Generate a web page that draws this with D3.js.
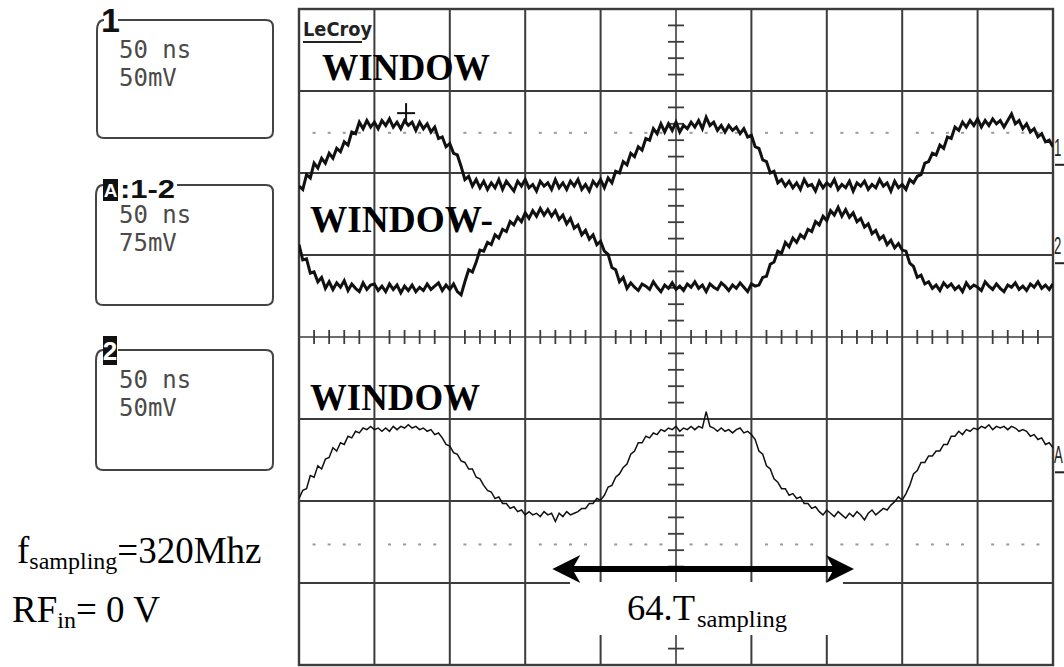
<!DOCTYPE html>
<html>
<head>
<meta charset="utf-8">
<script src="https://cdn.jsdelivr.net/npm/d3@7"></script>
<style>
  html, body { margin: 0; padding: 0; background: #fff; }
  svg { display: block; }
</style>
</head>
<body>
<svg id="scope" width="1064" height="667"></svg>
<script>
// ---- acquisition: 50 ns/div, 10 divisions, trigger at centre, one sample every 2.5 ns
const timeStart = -250;
const timeStep = 2.5;

// channel 1 (mV) - WINDOW+
const trace1 = [
  -13,-15,-6,-8,1,-2,4,1,7,4,
  10,8,14,12,20,19,26,22,27,23,
  26,22,27,24,28,23,26,22,27,24,
  26,21,26,22,25,20,23,16,17,11,
  13,7,6,-1,-9,-7,-13,-9,-14,-10,
  -15,-11,-14,-9,-15,-10,-13,-16,-10,-13,
  -9,-14,-12,-16,-10,-13,-11,-15,-9,-14,
  -11,-15,-10,-13,-9,-15,-12,-16,-10,-13,
  -9,-14,-8,-11,-4,-5,2,0,7,5,
  11,9,16,15,22,19,25,20,25,21,
  26,20,24,22,26,23,27,22,29,24,
  26,21,24,20,24,21,23,19,22,17,
  18,11,10,3,2,-5,-4,-11,-9,-13,
  -10,-14,-11,-15,-9,-13,-12,-16,-10,-14,
  -11,-13,-9,-15,-12,-14,-10,-16,-11,-13,
  -10,-15,-12,-14,-9,-13,-11,-16,-10,-14,
  -12,-15,-9,-11,-7,-6,1,2,7,6,
  12,10,17,16,23,21,26,23,27,24,
  28,23,27,24,28,25,27,23,27,31,
  25,27,22,25,20,22,17,19,14,15,
  11
];

// channel 2 (mV) - WINDOW-
const trace2 = [
  17,3,4,-9,-8,-17,-13,-23,-17,-24,
  -18,-22,-16,-25,-19,-23,-26,-18,-24,-20,
  -19,-25,-21,-26,-19,-24,-20,-27,-21,-25,
  -20,-26,-22,-25,-19,-24,-21,-18,-25,-20,
  -24,-19,-26,-29,-17,-6,-8,1,12,11,
  19,17,26,23,31,29,38,35,42,38,
  46,41,48,43,50,44,49,43,48,40,
  44,36,41,32,35,26,30,22,26,17,
  20,11,8,-4,-6,-17,-13,-23,-18,-22,
  -25,-19,-21,-24,-17,-22,-26,-20,-23,-18,
  -24,-21,-25,-19,-22,-17,-23,-20,-26,-19,
  -22,-24,-18,-21,-25,-20,-23,-18,-22,-26,
  -19,-21,-20,-13,-12,-1,1,11,9,19,
  15,23,19,26,23,31,29,38,35,43,
  39,48,44,51,43,49,42,46,38,41,
  33,36,27,30,22,25,17,21,14,18,
  12,11,0,-3,-13,-11,-19,-17,-23,-20,
  -25,-18,-22,-19,-24,-21,-26,-18,-23,-20,
  -22,-25,-17,-21,-24,-19,-23,-26,-20,-22,
  -18,-24,-21,-25,-19,-22,-17,-23,-20,-24,
  -19
];

// math trace A = 1 - 2 (mV) - WINDOW
const traceA = [
  -16,-11,-10,-2,-3,4,2,8,9,15,
  13,18,17,22,21,25,24,27,26,28,
  26,27,25,27,25,28,26,28,27,29,
  27,28,26,27,25,26,23,24,21,17,
  16,12,11,7,6,2,2,-3,-4,-8,
  -11,-12,-16,-15,-19,-19,-22,-21,-24,-23,
  -26,-24,-26,-25,-27,-24,-26,-25,-30,-25,
  -27,-24,-26,-25,-24,-22,-22,-19,-19,-16,
  -17,-14,-9,-8,-3,-1,3,5,11,13,
  18,18,22,21,24,23,26,25,27,26,
  28,25,27,26,28,26,28,27,37,28,
  27,25,27,25,26,24,26,27,24,25,
  23,20,13,11,4,2,-4,-6,-10,-10,
  -14,-13,-16,-15,-19,-19,-22,-21,-24,-26,
  -23,-25,-27,-24,-26,-28,-25,-27,-24,-26,
  -29,-25,-23,-26,-24,-22,-23,-20,-18,-15,
  -17,-13,-8,-1,1,6,6,10,10,13,
  13,17,17,22,22,25,23,26,25,27,
  26,28,27,29,26,28,27,28,26,28,
  27,25,26,25,22,23,20,21,17,18,
  15
];

// channel settings, in the order 1, 2, A
const traceNames   = ["1", "2", "A"];
const voltsPerDiv  = [50, 75, 50];        // mV / div
const groundDiv    = [2.1, 0.9, -1.65];   // trace position, divisions from centre
const traceWidth   = [3, 3, 1.5];

// descriptor boxes on the left
const boxTitles    = ["1", "A", "2"];
const boxSubtitles = ["", ":1-2", ""];
const boxTimebase  = ["50 ns", "50 ns", "50 ns"];
const boxVolts     = ["50mV", "75mV", "50mV"];

// annotations
const windowLabels = ["WINDOW", "WINDOW-", "WINDOW"];
const refLevelsDiv = [2.49, -2.53];       // dotted reference levels
const cursorMark   = [-179, 2.73];        // [ns, div]
const spanNs       = [-82, 118];          // 64 sampling periods at 320 MHz = 200 ns

// ---- scales
const x = d3.scaleLinear().domain([-250, 250]).range([299, 1053]);
const y = d3.scaleLinear().domain([-4, 4]).range([665, 9]);

const svg = d3.select("#scope");

svg.append("defs").append("clipPath").attr("id", "screen")
  .append("rect").attr("x", x(-250)).attr("y", y(4))
  .attr("width", x(250) - x(-250)).attr("height", y(-4) - y(4));

// ---- graticule
const grid = svg.append("g").attr("stroke", "#3c3c3c").attr("fill", "none");
grid.selectAll("line.v").data(d3.range(-250, 251, 50)).join("line")
  .attr("class", "v")
  .attr("x1", d => x(d)).attr("x2", d => x(d))
  .attr("y1", y(4)).attr("y2", y(-4))
  .attr("stroke-width", d => d === 0 ? 1.6 : 2);
grid.selectAll("line.h").data(d3.range(-4, 5, 1)).join("line")
  .attr("class", "h")
  .attr("x1", x(-250)).attr("x2", x(250))
  .attr("y1", d => y(d)).attr("y2", d => y(d))
  .attr("stroke-width", d => d === 0 ? 1.6 : 2);
grid.append("rect")
  .attr("x", x(-250)).attr("y", y(4))
  .attr("width", x(250) - x(-250)).attr("height", y(-4) - y(4))
  .attr("stroke-width", 2.4);

// minor ticks on the centre axes (5 per division)
const minorV = d3.range(-20, 21).filter(k => k % 5 !== 0).map(k => k / 5);
const minorH = d3.range(-25, 26).filter(k => k % 5 !== 0).map(k => k * 10);
grid.selectAll("line.tv").data(minorV).join("line")
  .attr("x1", x(0) - 8).attr("x2", x(0) + 8)
  .attr("y1", d => y(d)).attr("y2", d => y(d))
  .attr("stroke-width", 1.8);
grid.selectAll("line.th").data(minorH).join("line")
  .attr("x1", d => x(d)).attr("x2", d => x(d))
  .attr("y1", y(0) - 7).attr("y2", y(0) + 7)
  .attr("stroke-width", 1.8);

// dotted reference levels
const dotTimes = d3.range(-25, 25).filter(k => k % 5 !== 0).map(k => k * 10);
refLevelsDiv.forEach(lv => {
  svg.append("g").attr("fill", "#9a9a9a")
    .selectAll("rect").data(dotTimes).join("rect")
    .attr("x", d => x(d) - 1.5).attr("y", y(lv) - 1)
    .attr("width", 3).attr("height", 2);
});

// ---- traces
const traces = [trace1, trace2, traceA];
const tracesG = svg.append("g").attr("clip-path", "url(#screen)");
traces.forEach((vals, c) => {
  const line = d3.line()
    .x((d, i) => x(timeStart + i * timeStep))
    .y(d => y(groundDiv[c] + d / voltsPerDiv[c]));
  tracesG.append("path")
    .datum(vals)
    .attr("d", line)
    .attr("fill", "none")
    .attr("stroke", "#111")
    .attr("stroke-width", traceWidth[c])
    .attr("stroke-linejoin", "miter");
});

// trace markers at the right edge (narrow glyphs, squeezed horizontally)
traceNames.forEach((n, c) => {
  const gy = y(groundDiv[c]);
  svg.append("text")
    .attr("transform", `translate(1054,${gy - 9}) scale(0.55,1)`)
    .attr("font-family", "Liberation Sans, Arial, sans-serif")
    .attr("font-size", 24).attr("fill", "#222")
    .text(n);
  svg.append("line")
    .attr("x1", 1055).attr("x2", 1064).attr("y1", gy).attr("y2", gy)
    .attr("stroke", "#222").attr("stroke-width", 2);
});

// cursor
const cg = svg.append("g").attr("stroke", "#111").attr("stroke-width", 2);
cg.append("line")
  .attr("x1", x(cursorMark[0]) - 9).attr("x2", x(cursorMark[0]) + 9)
  .attr("y1", y(cursorMark[1])).attr("y2", y(cursorMark[1]));
cg.append("line")
  .attr("x1", x(cursorMark[0])).attr("x2", x(cursorMark[0]))
  .attr("y1", y(cursorMark[1]) - 10).attr("y2", y(cursorMark[1]) + 10);

// LeCroy logo
svg.append("text")
  .attr("x", 303).attr("y", 36)
  .attr("font-family", "DejaVu Sans, sans-serif").attr("font-weight", "bold")
  .attr("font-size", 20).attr("fill", "#222")
  .attr("textLength", 69).attr("lengthAdjust", "spacingAndGlyphs")
  .text("LeCroy");
svg.append("line").attr("x1", 303).attr("x2", 362).attr("y1", 42).attr("y2", 42)
  .attr("stroke", "#222").attr("stroke-width", 2);

// WINDOW annotations
const winPos = [[322, 80, 168], [310, 232, 183], [310, 410, 170]];
windowLabels.forEach((t, i) => {
  svg.append("text")
    .attr("x", winPos[i][0]).attr("y", winPos[i][1])
    .attr("font-family", "Liberation Serif, Times New Roman, serif")
    .attr("font-weight", "bold").attr("font-size", 38).attr("fill", "#000")
    .attr("textLength", winPos[i][2]).attr("lengthAdjust", "spacingAndGlyphs")
    .text(t);
});

// ---- 64 sampling period span
svg.append("rect").attr("x", 570).attr("y", 582).attr("width", 273).attr("height", 53)
  .attr("fill", "#fff");
const ay = y(-2.83);
const xa = x(spanNs[0]), xb = x(spanNs[1]);
svg.append("line")
  .attr("x1", xa + 18).attr("x2", xb - 18).attr("y1", ay).attr("y2", ay)
  .attr("stroke", "#000").attr("stroke-width", 6);
svg.append("path")
  .attr("d", `M${xa},${ay} L${xa + 28},${ay - 14} L${xa + 20},${ay} L${xa + 28},${ay + 14} Z`)
  .attr("fill", "#000");
svg.append("path")
  .attr("d", `M${xb},${ay} L${xb - 28},${ay - 14} L${xb - 20},${ay} L${xb - 28},${ay + 14} Z`)
  .attr("fill", "#000");
const serif = "Liberation Serif, Times New Roman, serif";
svg.append("text").attr("x", 627).attr("y", 620)
  .attr("font-family", serif).attr("font-size", 36).attr("fill", "#000")
  .attr("textLength", 68).attr("lengthAdjust", "spacingAndGlyphs")
  .text("64.T");
svg.append("text").attr("x", 697).attr("y", 627)
  .attr("font-family", serif).attr("font-size", 24).attr("fill", "#000")
  .attr("textLength", 90).attr("lengthAdjust", "spacingAndGlyphs")
  .text("sampling");

// ---- sampling conditions
const cond1 = svg.append("text").attr("x", 17).attr("y", 563)
  .attr("font-family", serif).attr("font-size", 37).attr("fill", "#000");
cond1.append("tspan").text("f");
cond1.append("tspan").attr("font-size", 24).attr("dy", 6).text("sampling");
cond1.append("tspan").attr("dy", -6).text("=320Mhz");

const cond2 = svg.append("text").attr("x", 12).attr("y", 622)
  .attr("font-family", serif).attr("font-size", 37).attr("fill", "#000")
  .attr("xml:space", "preserve");
cond2.append("tspan").text("RF");
cond2.append("tspan").attr("font-size", 24).attr("dy", 6).text("in");
cond2.append("tspan").attr("dy", -6).text("= 0 V");

// ---- descriptor boxes
const boxGeom = [
  { l: 97, t: 20, r: 273, b: 138, gap: 118 },
  { l: 96, t: 185, r: 273, b: 305, gap: 177 },
  { l: 96, t: 350, r: 273, b: 470, gap: 118 }
];
const rad = 7;
boxGeom.forEach((g, i) => {
  const d = `M${g.gap},${g.t} H${g.r - rad} Q${g.r},${g.t} ${g.r},${g.t + rad}` +
            ` V${g.b - rad} Q${g.r},${g.b} ${g.r - rad},${g.b}` +
            ` H${g.l + rad} Q${g.l},${g.b} ${g.l},${g.b - rad}` +
            ` V${g.t + rad + 4} Q${g.l},${g.t} ${g.l + rad},${g.t}`;
  svg.append("path").attr("d", d).attr("fill", "none")
    .attr("stroke", "#444").attr("stroke-width", 2);

  const mono = "DejaVu Sans Mono, monospace";
  svg.append("text").attr("x", 119).attr("y", g.t + 38)
    .attr("font-family", mono).attr("font-size", 24).attr("fill", "#4a4a4a")
    .attr("xml:space", "preserve").text(boxTimebase[i]);
  svg.append("text").attr("x", 119).attr("y", g.t + 66)
    .attr("font-family", mono).attr("font-size", 24).attr("fill", "#4a4a4a")
    .text(boxVolts[i]);
});

// box titles
const sans = "Liberation Sans, Arial, sans-serif";
svg.append("text").attr("x", 101).attr("y", 32)
  .attr("font-family", sans).attr("font-weight", "bold").attr("font-size", 34)
  .attr("fill", "#111").text(boxTitles[0]);

svg.append("rect").attr("x", 103).attr("y", 179).attr("width", 15).attr("height", 22).attr("fill", "#111");
svg.append("text").attr("x", 110.5).attr("y", 197).attr("text-anchor", "middle")
  .attr("font-family", sans).attr("font-weight", "bold").attr("font-size", 19)
  .attr("fill", "#fff").text(boxTitles[1]);
svg.append("text").attr("x", 120).attr("y", 198)
  .attr("font-family", sans).attr("font-weight", "bold").attr("font-size", 25)
  .attr("fill", "#111").attr("textLength", 55).attr("lengthAdjust", "spacingAndGlyphs")
  .text(boxSubtitles[1]);

svg.append("rect").attr("x", 103).attr("y", 336).attr("width", 14).attr("height", 29).attr("fill", "#111");
svg.append("text").attr("x", 110).attr("y", 360).attr("text-anchor", "middle")
  .attr("font-family", sans).attr("font-weight", "bold").attr("font-size", 26)
  .attr("fill", "#fff").text(boxTitles[2]);
</script>
</body>
</html>
